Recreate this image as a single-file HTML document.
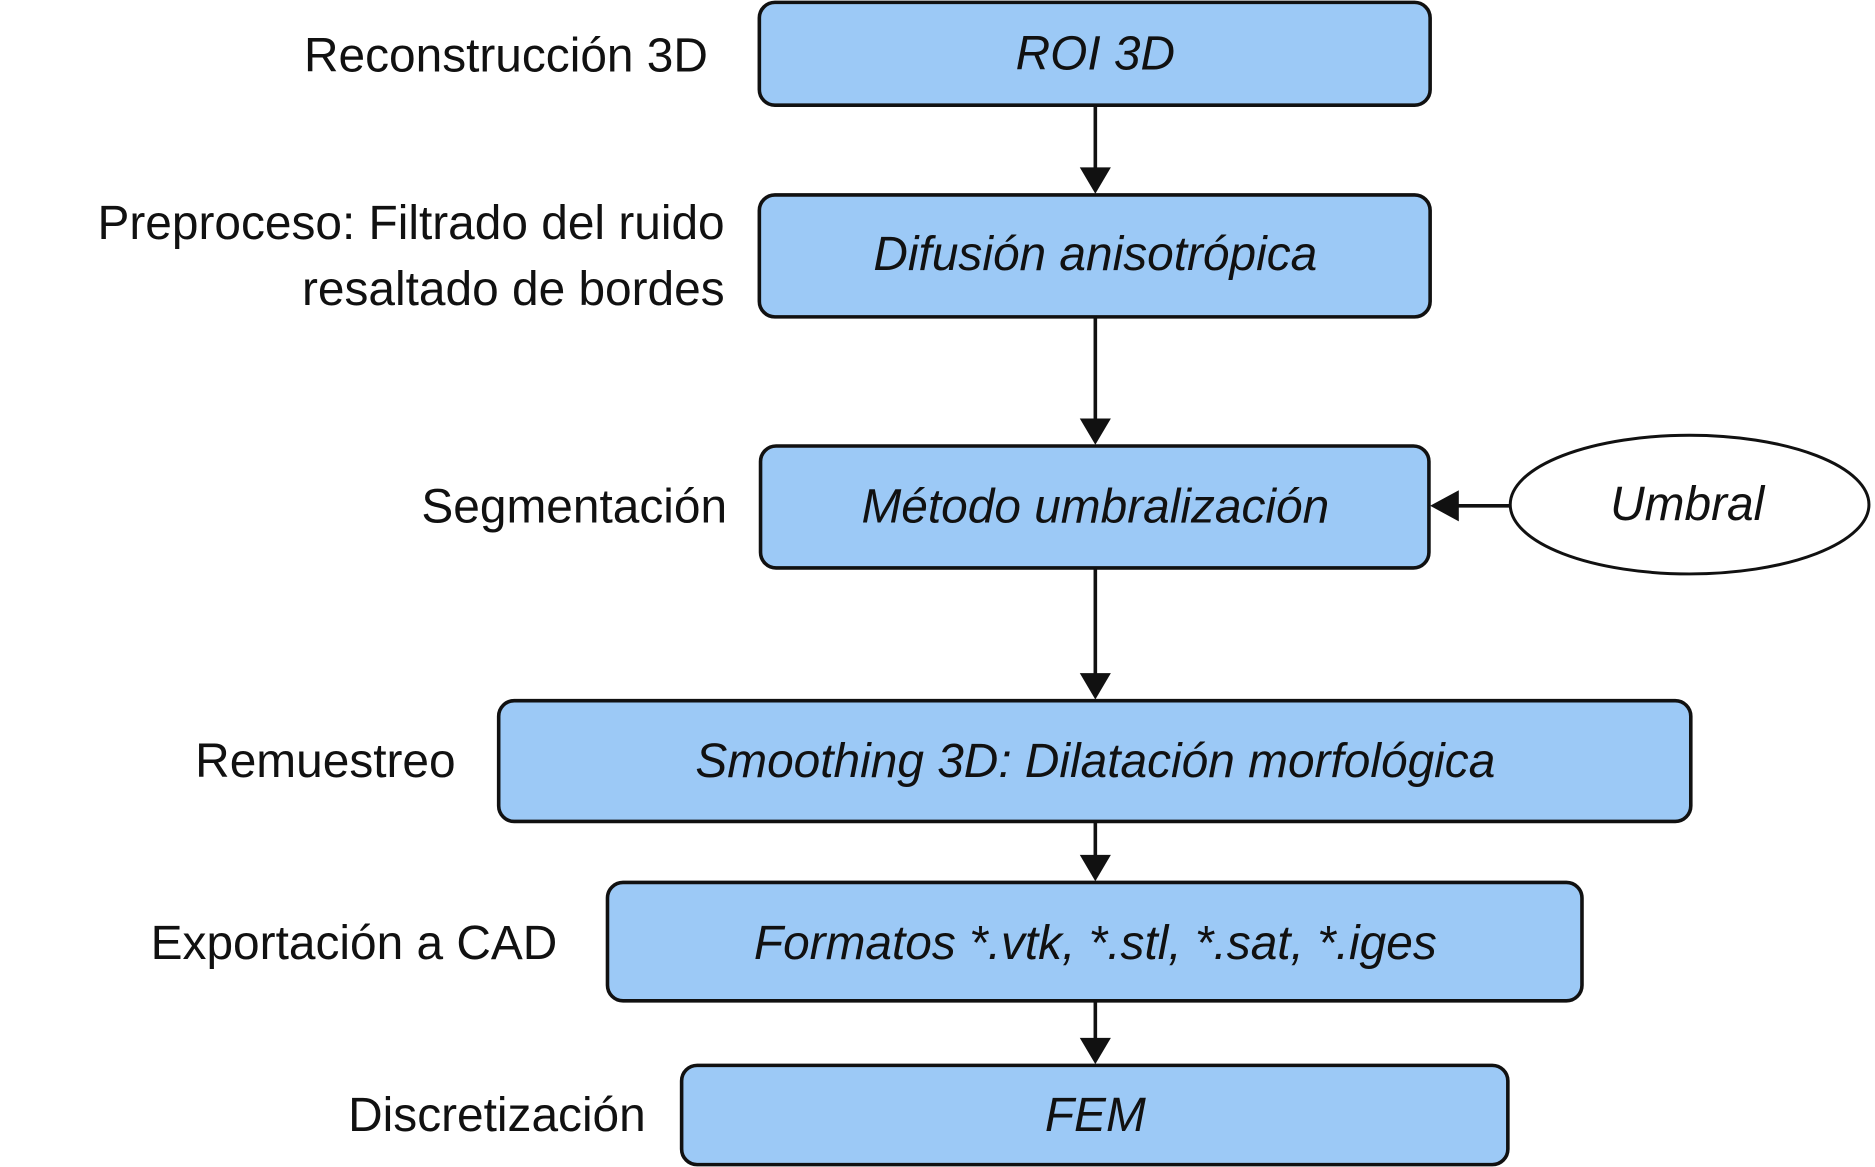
<!DOCTYPE html>
<html><head><meta charset="utf-8"><style>
html,body{margin:0;padding:0;background:#fff;}
svg{display:block;}
text{font-family:"Liberation Sans",Arial,sans-serif;font-size:40px;fill:#111;}
.b{fill:#9cc9f6;stroke:#111;stroke-width:3;}
.i{font-style:italic;text-anchor:middle;}
.l{text-anchor:end;}
line{stroke:#111;stroke-width:3;}
</style></head><body>
<svg width="1875" height="1167" viewBox="0 0 1568 976" xmlns="http://www.w3.org/2000/svg">
<rect class="b" x="635" y="2" width="561" height="86" rx="13"/>
<rect class="b" x="635" y="163" width="561" height="102" rx="13"/>
<rect class="b" x="636" y="373" width="559" height="102" rx="13"/>
<rect class="b" x="417" y="586" width="997" height="101" rx="13"/>
<rect class="b" x="508" y="738" width="815" height="99" rx="13"/>
<rect class="b" x="570" y="891" width="691" height="83" rx="13"/>
<ellipse cx="1413" cy="422" rx="150" ry="58" fill="#fff" stroke="#111" stroke-width="2.5"/>
<g>
<line x1="916" y1="88" x2="916" y2="142"/><polygon points="903,140 929,140 916,162" fill="#111"/>
<line x1="916" y1="265" x2="916" y2="352"/><polygon points="903,350 929,350 916,372" fill="#111"/>
<line x1="916" y1="475" x2="916" y2="565"/><polygon points="903,563 929,563 916,585" fill="#111"/>
<line x1="916" y1="687" x2="916" y2="717"/><polygon points="903,715 929,715 916,737" fill="#111"/>
<line x1="916" y1="837" x2="916" y2="870"/><polygon points="903,868 929,868 916,890" fill="#111"/>
<line x1="1263" y1="423" x2="1218" y2="423"/><polygon points="1220,410 1220,436 1196,423" fill="#111"/>
</g>
<text class="i" x="916" y="58">ROI 3D</text>
<text class="i" x="916" y="226">Difusión anisotrópica</text>
<text class="i" x="916" y="437">Método umbralización</text>
<text class="i" x="916" y="650">Smoothing 3D: Dilatación morfológica</text>
<text class="i" x="916" y="802">Formatos *.vtk, *.stl, *.sat, *.iges</text>
<text class="i" x="916" y="946">FEM</text>
<text class="i" x="1411" y="435">Umbral</text>
<text class="l" x="592" y="60">Reconstrucción 3D</text>
<text class="l" x="606" y="200">Preproceso: Filtrado del ruido</text>
<text class="l" x="606" y="255">resaltado de bordes</text>
<text class="l" x="608" y="437">Segmentación</text>
<text class="l" x="381" y="650">Remuestreo</text>
<text class="l" x="466" y="802">Exportación a CAD</text>
<text class="l" x="540" y="946">Discretización</text>
</svg>
</body></html>
